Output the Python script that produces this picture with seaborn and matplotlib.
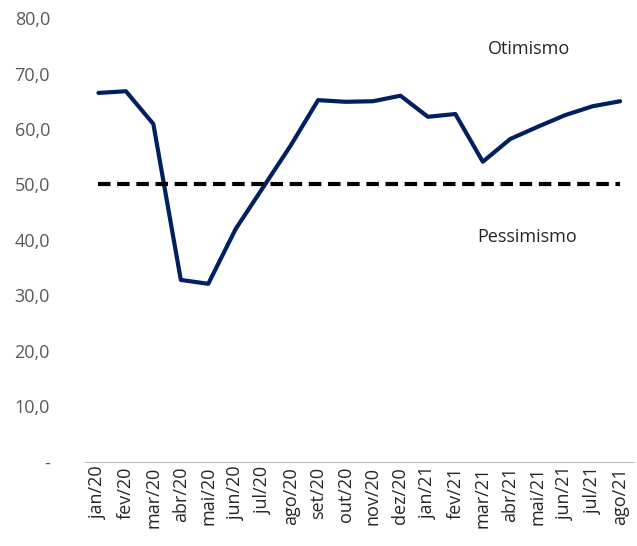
import matplotlib
matplotlib.use("Agg")
import matplotlib.pyplot as plt
import seaborn as sns
import pandas as pd
import numpy as np

months = ["jan/20", "fev/20", "mar/20", "abr/20", "mai/20", "jun/20", "jul/20", "ago/20",
          "set/20", "out/20", "nov/20", "dez/20", "jan/21", "fev/21", "mar/21", "abr/21",
          "mai/21", "jun/21", "jul/21", "ago/21"]
values = [66.5, 66.8, 60.9, 32.8, 32.1, 42.0, 49.5, 57.0, 65.2, 64.9, 65.0, 66.0,
          62.2, 62.7, 54.1, 58.2, 60.4, 62.5, 64.1, 65.0]
neutral = 50.0

sns.set_style("white")
plt.rcParams["font.family"] = ["Open Sans", "DejaVu Sans"]

df = pd.DataFrame({"mes": months, "valor": values, "x": np.arange(len(months))})

fig, ax = plt.subplots(figsize=(6.37, 5.46), dpi=100)
sns.lineplot(data=df, x="x", y="valor", color="#002060", linewidth=3, ax=ax)
ax.plot(df["x"], [neutral] * len(df), color="black", linewidth=3, linestyle=(0, (3, 1.6)))

ax.set_xlim(-0.5, len(months) - 0.5)
ax.set_ylim(0, 80)
ax.set_yticks(range(0, 81, 10))
ax.set_yticklabels(["-"] + [f"{v},0" for v in range(10, 81, 10)], fontsize=13, color="#595959")
ax.set_xticks(df["x"])
ax.set_xticklabels(months, rotation=90, fontsize=13)
ax.set_xticks(np.arange(-0.5, len(months)), minor=True)
ax.tick_params(axis="x", which="major", length=0)
ax.tick_params(axis="x", which="minor", length=6, color="#bfbfbf")
ax.tick_params(axis="y", length=0, pad=25)
for s in ["top", "right", "left"]:
    ax.spines[s].set_visible(False)
ax.spines["bottom"].set_color("#bfbfbf")
ax.set_xlabel("")
ax.set_ylabel("")

ax.text(15.7, 74.5, "Otimismo", fontsize=13, ha="center", va="center")
ax.text(15.6, 40.5, "Pessimismo", fontsize=13, ha="center", va="center")

plt.subplots_adjust(left=0.133, right=0.995, top=0.967, bottom=0.154)
plt.savefig("out.png")
